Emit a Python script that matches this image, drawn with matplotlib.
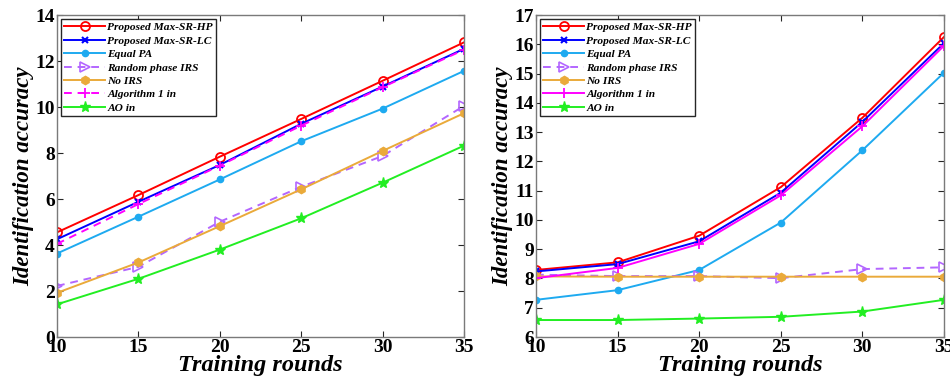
import matplotlib
matplotlib.use("Agg")
import matplotlib.pyplot as plt

rounds = [10, 15, 20, 25, 30, 35]

labels = ["Proposed Max-SR-HP", "Proposed Max-SR-LC", "Equal PA",
          "Random phase IRS", "No IRS", "Algorithm 1 in", "AO in"]

# Left panel
left_hp = [4.55, 6.17, 7.84, 9.48, 11.14, 12.81]
left_lc = [4.25, 5.88, 7.48, 9.27, 10.89, 12.53]
left_epa = [3.63, 5.23, 6.85, 8.51, 9.93, 11.57]
left_rand = [2.22, 3.05, 5.01, 6.53, 7.87, 10.05]
left_noirs = [1.92, 3.24, 4.82, 6.42, 8.09, 9.73]
left_alg1 = [4.05, 5.78, 7.45, 9.19, 10.86, 12.49]
left_ao = [1.42, 2.53, 3.80, 5.16, 6.71, 8.32]

# Right panel
right_hp = [8.29, 8.55, 9.46, 11.12, 13.49, 16.25]
right_lc = [8.24, 8.49, 9.27, 10.93, 13.35, 16.04]
right_epa = [7.27, 7.60, 8.29, 9.91, 12.38, 15.03]
right_rand = [8.13, 8.08, 8.08, 8.01, 8.32, 8.38]
right_noirs = [8.07, 8.06, 8.06, 8.06, 8.06, 8.06]
right_alg1 = [8.01, 8.36, 9.18, 10.84, 13.20, 15.95]
right_ao = [6.58, 6.58, 6.63, 6.69, 6.87, 7.27]

left_yticks = [0, 2, 4, 6, 8, 10, 12, 14]
right_yticks = [6, 7, 8, 9, 10, 11, 12, 13, 14, 15, 16, 17]

plt.rcParams['font.family'] = ['Liberation Serif', 'DejaVu Serif']
plt.rcParams['font.weight'] = 'bold'

c_hp = '#ff0000'
c_lc = '#0000ff'
c_epa = '#1eaaf0'
c_rand = '#b366ff'
c_noirs = '#eaaa3a'
c_alg1 = '#ff00ff'
c_ao = '#22ee22'

fig = plt.figure(figsize=(9.5, 3.86), dpi=100)
ax1 = fig.add_axes([57/950, 49/386, 407/950, 322/386])
ax2 = fig.add_axes([536/950, 49/386, 408/950, 322/386])


def draw(ax, hp, lc, epa, rand, noirs, alg1, ao, alg1_dashed):
    lw = 1.4
    ax.plot(rounds, hp, color=c_hp, lw=lw, marker='o', ms=6.5, mfc='none', mew=1.3, label=labels[0])
    ax.plot(rounds, lc, color=c_lc, lw=lw, marker='x', ms=4.5, mew=1.5, label=labels[1])
    ax.plot(rounds, epa, color=c_epa, lw=lw, marker='o', ms=4.5, mfc=c_epa, label=labels[2])
    ax.plot(rounds, rand, color=c_rand, lw=lw, ls=(0, (4, 3)), marker='>', ms=7, mfc='none', mew=1.2, label=labels[3])
    ax.plot(rounds, noirs, color=c_noirs, lw=lw, marker='h', ms=6, mfc=c_noirs, label=labels[4])
    ax.plot(rounds, alg1, color=c_alg1, lw=lw, ls=(0, (4, 3)) if alg1_dashed else '-', marker='+', ms=7, mew=1.3, label=labels[5])
    ax.plot(rounds, ao, color=c_ao, lw=lw, marker='*', ms=8, mfc=c_ao, label=labels[6])


draw(ax1, left_hp, left_lc, left_epa, left_rand, left_noirs, left_alg1, left_ao, True)
draw(ax2, right_hp, right_lc, right_epa, right_rand, right_noirs, right_alg1, right_ao, False)

for ax, yt in ((ax1, left_yticks), (ax2, right_yticks)):
    ax.set_xlim(10, 35)
    ax.set_ylim(yt[0], yt[-1])
    ax.set_xticks(rounds)
    ax.set_yticks(yt)
    ax.tick_params(direction='in', top=True, right=True, length=4, width=0.8,
                   color='#262626', labelsize=14, pad=1.5)
    for lab in ax.get_xticklabels() + ax.get_yticklabels():
        lab.set_fontweight('bold')
    for s in ax.spines.values():
        s.set_color('#7a7a7a')
        s.set_linewidth(1.0)
    ax.set_xlabel('Training rounds', fontsize=17.5, fontweight='bold', style='italic', labelpad=-1)
    ax.set_ylabel('Identification accuracy', fontsize=16.5, fontweight='bold', style='italic', labelpad=1)
    leg = ax.legend(loc='upper left', prop={'size': 8.2, 'weight': 'bold', 'style': 'italic'},
                    handlelength=3.6, handletextpad=0.15, borderpad=0.3, labelspacing=0.3,
                    borderaxespad=0.35, fancybox=False, framealpha=1, edgecolor='#262626')
    leg.get_frame().set_linewidth(1.0)

fig.savefig('out.png', dpi=100)
